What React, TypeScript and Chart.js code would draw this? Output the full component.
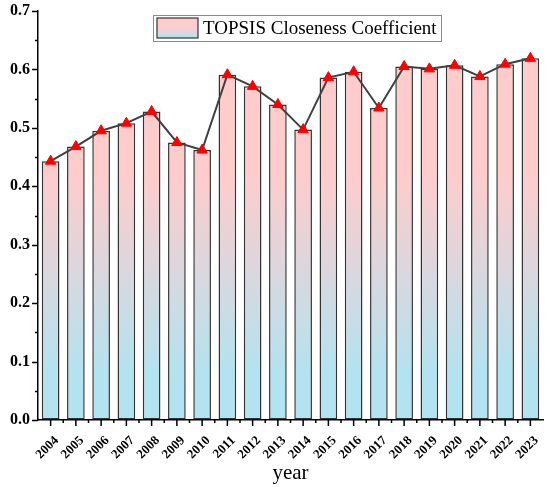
import React, { useEffect, useRef } from 'react'
import { Chart, registerables, Plugin } from 'chart.js'

Chart.register(...registerables)

const years = [
  '2004', '2005', '2006', '2007', '2008', '2009', '2010', '2011', '2012', '2013',
  '2014', '2015', '2016', '2017', '2018', '2019', '2020', '2021', '2022', '2023',
]
const closeness = [
  0.443, 0.468, 0.495, 0.508, 0.528, 0.475, 0.462, 0.591, 0.571, 0.54,
  0.497, 0.586, 0.596, 0.534, 0.605, 0.601, 0.607, 0.588, 0.609, 0.619,
]
const seriesName = 'TOPSIS Closeness Coefficient'
const yTicks = [0, 0.1, 0.2, 0.3, 0.4, 0.5, 0.6, 0.7]

const PINK = '#ffcccc'
const BLUE = '#b3e3f0'
const SERIF = "'Liberation Serif', 'Times New Roman', serif"

// tick marks outside the axes: major + minor, like the Origin style
const tickMarks: Plugin<'bar'> = {
  id: 'tickMarks',
  afterDraw(chart) {
    const { ctx, scales, chartArea } = chart
    const x = scales.x
    const y = scales.y
    ctx.save()
    ctx.strokeStyle = '#000'
    ctx.lineWidth = 1.5
    ctx.beginPath()
    for (let v = 0; v <= 0.7001; v += 0.05) {
      const py = Math.round(y.getPixelForValue(v)) + 0.5
      const major = Math.abs(Math.round(v * 10) - v * 10) < 0.001
      ctx.moveTo(chartArea.left, py)
      ctx.lineTo(chartArea.left - (major ? 6 : 3), py)
    }
    for (let i = 0; i < years.length; i++) {
      const px = x.getPixelForValue(i)
      ctx.moveTo(px, chartArea.bottom)
      ctx.lineTo(px, chartArea.bottom + 6)
      if (i > 0) {
        const mid = (x.getPixelForValue(i - 1) + px) / 2
        ctx.moveTo(mid, chartArea.bottom)
        ctx.lineTo(mid, chartArea.bottom + 3)
      }
    }
    ctx.stroke()
    ctx.restore()
  },
}

const legendBox: Plugin<'bar'> = {
  id: 'legendBox',
  afterDraw(chart) {
    const { ctx } = chart
    const left = 153
    const top = 15
    const w = 288
    const h = 26
    ctx.save()
    ctx.fillStyle = '#fff'
    ctx.fillRect(left, top, w, h)
    ctx.strokeStyle = '#8a8a8a'
    ctx.lineWidth = 1
    ctx.strokeRect(left + 0.5, top + 0.5, w, h)
    const g = ctx.createLinearGradient(0, top + 3, 0, top + 23)
    g.addColorStop(0, PINK)
    g.addColorStop(0.45, PINK)
    g.addColorStop(1, BLUE)
    ctx.fillStyle = g
    ctx.fillRect(157, top + 3, 41, 20)
    ctx.strokeStyle = '#333'
    ctx.lineWidth = 1.2
    ctx.strokeRect(157, top + 3, 41, 20)
    ctx.fillStyle = '#000'
    ctx.font = `19px ${SERIF}`
    ctx.textBaseline = 'middle'
    ctx.fillText(seriesName, 203, top + h / 2 + 1)
    ctx.restore()
  },
}

const App: React.FC = () => {
  const chartRef = useRef<HTMLCanvasElement | null>(null)
  const chartInstance = useRef<Chart | null>(null)

  useEffect(() => {
    document.body.style.margin = '0'
    if (!chartRef.current) return
    if (chartInstance.current) chartInstance.current.destroy()
    const ctx = chartRef.current.getContext('2d')
    if (!ctx) return

    chartInstance.current = new Chart(ctx, {
      type: 'bar',
      data: {
        labels: years,
        datasets: [
          {
            type: 'line',
            label: seriesName,
            data: closeness,
            borderColor: '#404040',
            borderWidth: 2,
            pointStyle: 'triangle',
            pointRadius: 6,
            pointBackgroundColor: '#ff0000',
            pointBorderColor: '#ff0000',
            pointBorderWidth: 1,
            order: 0,
          } as any,
          {
            type: 'bar',
            label: seriesName,
            data: closeness,
            backgroundColor: (c: any) => {
              const area = c.chart.chartArea
              if (!area) return PINK
              const ys = c.chart.scales.y
              const g = c.chart.ctx.createLinearGradient(
                0,
                ys.getPixelForValue(0.42),
                0,
                ys.getPixelForValue(0.08),
              )
              g.addColorStop(0, PINK)
              g.addColorStop(1, BLUE)
              return g
            },
            borderColor: '#333',
            borderWidth: 1.5,
            borderSkipped: false,
            categoryPercentage: 1,
            barPercentage: 0.7,
            order: 1,
          },
        ],
      },
      options: {
        responsive: true,
        maintainAspectRatio: false,
        animation: false,
        layout: { padding: { left: 2, right: 2, top: 11, bottom: 3 } },
        plugins: {
          legend: { display: false },
          tooltip: { enabled: false },
        },
        scales: {
          x: {
            offset: true,
            afterFit: (axis) => {
              axis.height = 64
              axis.paddingLeft = 0
              axis.paddingRight = 0
            },
            grid: { display: true, drawOnChartArea: false, drawTicks: false },
            border: { display: true, color: '#000', width: 1.5 },
            ticks: {
              color: '#000',
              font: { family: SERIF, size: 13, weight: 'bold' },
              minRotation: 45,
              maxRotation: 45,
              padding: 13,
              labelOffset: 6,
              autoSkip: false,
            },
            title: {
              display: true,
              text: 'year',
              color: '#000',
              font: { family: SERIF, size: 21, lineHeight: 1 },
              padding: { top: 0, bottom: 0 },
            },
          },
          y: {
            min: 0,
            max: 0.7,
            afterBuildTicks: (axis) => {
              axis.ticks = yTicks.map((v) => ({ value: v }))
            },
            afterFit: (axis) => {
              axis.paddingTop = 0
              axis.paddingBottom = 0
            },
            grid: { display: true, drawOnChartArea: false, drawTicks: false },
            border: { display: true, color: '#000', width: 1.5 },
            ticks: {
              color: '#000',
              font: { family: SERIF, size: 16, weight: 'bold', lineHeight: 1 },
              padding: 8,
              callback: (v) => Number(v).toFixed(1),
            },
          },
        },
      },
      plugins: [tickMarks, legendBox],
    })

    return () => {
      if (chartInstance.current) {
        chartInstance.current.destroy()
        chartInstance.current = null
      }
    }
  }, [])

  return (
    <div style={{ width: 550, height: 487, position: 'relative', background: '#fff' }}>
      <canvas ref={chartRef} />
    </div>
  )
}

export default App
